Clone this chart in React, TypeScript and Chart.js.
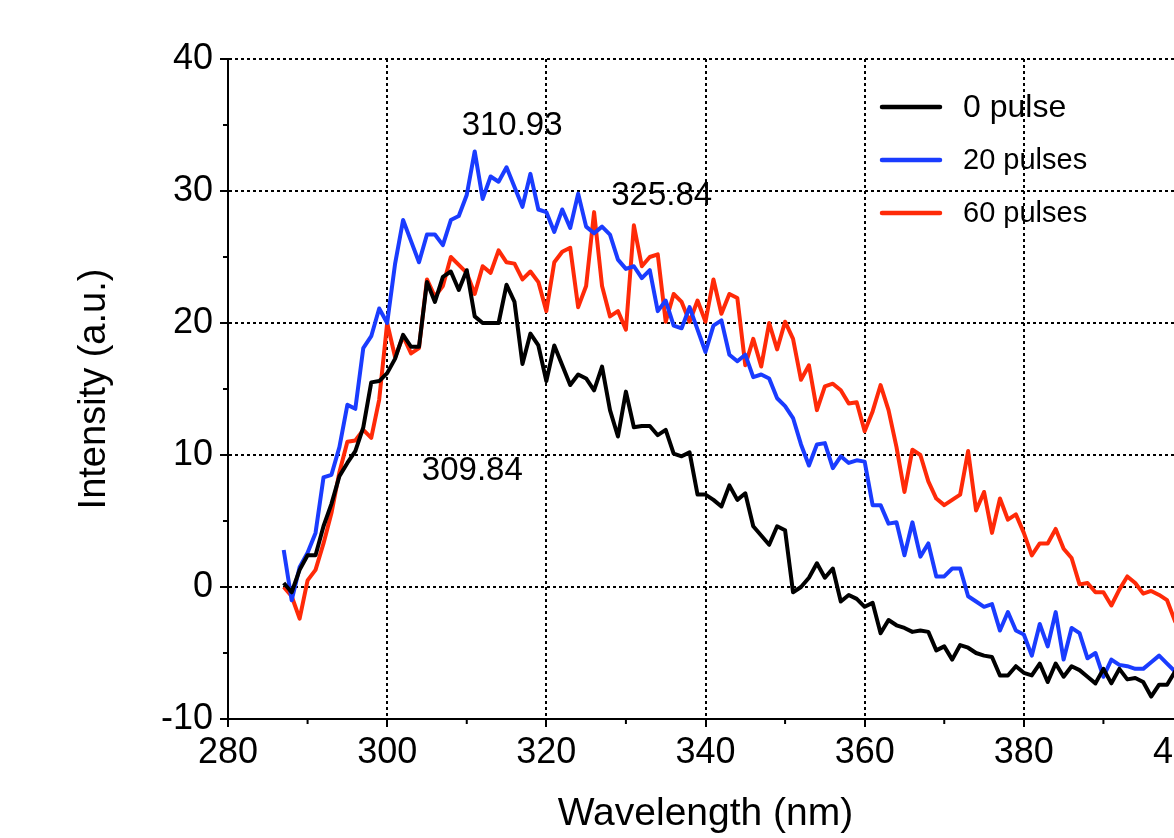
import React, { useEffect, useRef } from "react";
import { Chart, registerables } from "chart.js";

Chart.register(...registerables);

const wavelengths = [
  287, 288, 289, 290, 291, 292, 293, 294, 295, 296,
  297, 298, 299, 300, 301, 302, 303, 304, 305, 306,
  307, 308, 309, 310, 311, 312, 313, 314, 315, 316,
  317, 318, 319, 320, 321, 322, 323, 324, 325, 326,
  327, 328, 329, 330, 331, 332, 333, 334, 335, 336,
  337, 338, 339, 340, 341, 342, 343, 344, 345, 346,
  347, 348, 349, 350, 351, 352, 353, 354, 355, 356,
  357, 358, 359, 360, 361, 362, 363, 364, 365, 366,
  367, 368, 369, 370, 371, 372, 373, 374, 375, 376,
  377, 378, 379, 380, 381, 382, 383, 384, 385, 386,
  387, 388, 389, 390, 391, 392, 393, 394, 395, 396,
  397, 398, 399, 400,
];

const pulse0 = [
  0.3, -0.4, 1.3, 2.4, 2.4, 4.6, 6.3, 8.4, 9.4, 10.3,
  12.1, 15.5, 15.6, 16.2, 17.3, 19.1, 18.2, 18.2, 23.1, 21.6,
  23.5, 23.9, 22.5, 24.0, 20.5, 20.0, 20.0, 20.0, 22.9, 21.6,
  16.9, 19.2, 18.3, 15.6, 18.3, 16.8, 15.3, 16.1, 15.8, 14.9,
  16.7, 13.4, 11.4, 14.8, 12.1, 12.2, 12.2, 11.5, 11.9, 10.1,
  9.9, 10.2, 7.0, 7.0, 6.6, 6.1, 7.7, 6.6, 7.1, 4.6,
  3.9, 3.2, 4.6, 4.3, -0.4, 0.0, 0.7, 1.8, 0.7, 1.4,
  -1.1, -0.6, -0.9, -1.5, -1.2, -3.5, -2.5, -2.9, -3.1, -3.4,
  -3.3, -3.4, -4.8, -4.5, -5.5, -4.4, -4.6, -5.0, -5.2, -5.3,
  -6.7, -6.7, -6.0, -6.5, -6.7, -5.8, -7.2, -5.8, -6.8, -6.0,
  -6.3, -6.8, -7.3, -6.2, -7.3, -6.2, -7.0, -6.9, -7.2, -8.3,
  -7.4, -7.4, -6.4, -6.0,
];

const pulses20 = [
  2.8, -1.0, 1.5, 2.6, 4.1, 8.3, 8.5, 10.6, 13.8, 13.5,
  18.1, 19.0, 21.1, 20.0, 24.5, 27.8, 26.2, 24.6, 26.7, 26.7,
  25.9, 27.8, 28.1, 29.7, 33.0, 29.4, 31.1, 30.7, 31.8, 30.3,
  28.8, 31.3, 28.6, 28.4, 26.9, 28.6, 27.2, 29.8, 27.3, 26.8,
  27.3, 26.7, 24.8, 24.1, 24.3, 23.4, 24.0, 20.9, 21.7, 19.8,
  19.6, 21.2, 19.5, 17.8, 19.8, 20.2, 17.6, 17.1, 17.6, 15.9,
  16.1, 15.8, 14.3, 13.7, 12.8, 10.8, 9.2, 10.8, 10.9, 9.0,
  9.9, 9.4, 9.6, 9.5, 6.2, 6.2, 4.8, 4.9, 2.4, 4.9,
  2.3, 3.3, 0.8, 0.8, 1.4, 1.4, -0.7, -1.1, -1.5, -1.3,
  -3.3, -1.9, -3.3, -3.6, -5.2, -2.8, -4.5, -1.9, -5.5, -3.1,
  -3.5, -5.4, -5.0, -6.8, -5.5, -5.9, -6.0, -6.2, -6.2, -5.7,
  -5.2, -5.8, -6.4, -6.8,
];

const pulses60 = [
  0.0, -0.7, -2.4, 0.5, 1.3, 3.3, 5.6, 8.7, 11.0, 11.1,
  11.9, 11.3, 14.2, 20.0, 17.4, 19.0, 17.7, 18.1, 23.3, 22.0,
  22.8, 25.0, 24.4, 23.8, 22.2, 24.3, 23.8, 25.5, 24.6, 24.5,
  23.3, 23.9, 23.1, 20.9, 24.6, 25.4, 25.7, 21.2, 22.8, 28.4,
  22.8, 20.5, 20.9, 19.5, 27.4, 24.3, 25.0, 25.2, 20.1, 22.2,
  21.6, 20.1, 21.7, 20.1, 23.3, 20.7, 22.2, 21.9, 16.8, 18.8,
  16.7, 20.0, 18.0, 20.1, 18.8, 15.7, 16.8, 13.4, 15.2, 15.4,
  14.9, 13.9, 14.0, 11.8, 13.3, 15.3, 13.4, 10.6, 7.2, 10.4,
  10.0, 8.0, 6.7, 6.2, 6.6, 7.0, 10.3, 5.8, 7.2, 4.1,
  6.7, 5.1, 5.5, 4.1, 2.4, 3.3, 3.3, 4.4, 2.9, 2.2,
  0.2, 0.3, -0.4, -0.4, -1.4, -0.2, 0.8, 0.3, -0.5, -0.3,
  -0.6, -1.0, -2.6, -3.5,
];

const seriesLabels = ["0 pulse", "20 pulses", "60 pulses"];
const seriesColors = ["#000000", "#1a3cff", "#ff2a08"];

const minorXTicks = [290, 310, 330, 350, 370, 390];
const minorYTicks = [35, 25, 15, 5, -5];

const peakLabels = ["310.93", "325.84", "309.84"];
const peakLabelX = [315.7, 334.5, 310.7];
const peakLabelY = [34.9, 29.6, 8.8];

const FONT = '"Liberation Sans", Arial, Helvetica, sans-serif';

const extrasPlugin = {
  id: "extras",
  afterDatasetsDraw(chart: any) {
    const { ctx, chartArea } = chart;
    const xs = chart.scales.x;
    const ys = chart.scales.y;
    ctx.save();
    // minor ticks
    ctx.strokeStyle = "#000";
    ctx.lineWidth = 2;
    ctx.beginPath();
    minorXTicks.forEach((v) => {
      const px = xs.getPixelForValue(v);
      ctx.moveTo(px, chartArea.bottom);
      ctx.lineTo(px, chartArea.bottom + 5);
    });
    minorYTicks.forEach((v) => {
      const py = ys.getPixelForValue(v);
      ctx.moveTo(chartArea.left, py);
      ctx.lineTo(chartArea.left - 5, py);
    });
    ctx.stroke();

    // peak annotations
    ctx.fillStyle = "#000";
    ctx.font = `33px ${FONT}`;
    ctx.textAlign = "center";
    ctx.textBaseline = "middle";
    peakLabels.forEach((t, i) => {
      ctx.fillText(t, xs.getPixelForValue(peakLabelX[i]), ys.getPixelForValue(peakLabelY[i]));
    });

    // legend
    const lineX1 = 882;
    const lineX2 = 940;
    const textX = 963;
    const rowY = [107, 160, 213];
    const sizes = [32, 29, 29];
    ctx.lineCap = "round";
    ctx.textAlign = "left";
    chart.data.datasets.forEach((ds: any, i: number) => {
      ctx.strokeStyle = ds.borderColor;
      ctx.lineWidth = 4.5;
      ctx.beginPath();
      ctx.moveTo(lineX1, rowY[i]);
      ctx.lineTo(lineX2, rowY[i]);
      ctx.stroke();
      ctx.fillStyle = "#000";
      ctx.font = `${sizes[i]}px ${FONT}`;
      ctx.fillText(ds.label, textX, rowY[i] + 1);
    });
    ctx.restore();
  },
};

export default function App() {
  const ref = useRef<HTMLCanvasElement | null>(null);

  useEffect(() => {
    if (!ref.current) return;
    const series = [pulse0, pulses20, pulses60];
    const chart = new Chart(ref.current, {
      type: "line",
      data: {
        datasets: series.map((vals, si) => ({
          label: seriesLabels[si],
          data: wavelengths.map((w, i) => ({ x: w, y: vals[i] })),
          borderColor: seriesColors[si],
          backgroundColor: seriesColors[si],
          borderWidth: 4,
          pointRadius: 0,
          tension: 0,
          borderJoinStyle: "round" as const,
          fill: false,
        })),
      },
      options: {
        animation: false,
        responsive: false,
        layout: { padding: { left: 0, top: 59, right: 60, bottom: 0 } },
        plugins: {
          legend: { display: false },
          tooltip: { enabled: false },
        },
        scales: {
          x: {
            type: "linear",
            min: 280,
            max: 400,
            ticks: {
              stepSize: 20,
              autoSkip: false,
              maxRotation: 0,
              color: "#000",
              padding: 4,
              font: { family: FONT, size: 36 },
            },
            grid: {
              color: "#000",
              lineWidth: 2,
              tickLength: 8,
              tickColor: "#000",
              tickWidth: 2,
              tickBorderDash: [],
            },
            border: { display: true, color: "#000", width: 2, dash: [3, 3] },
            title: {
              display: true,
              text: "Wavelength (nm)",
              color: "#000",
              font: { family: FONT, size: 39, lineHeight: 1.2 },
              padding: { top: 0, bottom: 0 },
            },
            afterFit: (s: any) => {
              s.height = 119;
            },
          },
          y: {
            type: "linear",
            min: -10,
            max: 40,
            ticks: {
              stepSize: 10,
              color: "#000",
              padding: 7,
              font: { family: FONT, size: 36 },
            },
            grid: {
              color: "#000",
              lineWidth: 2,
              tickLength: 8,
              tickColor: "#000",
              tickWidth: 2,
              tickBorderDash: [],
            },
            border: { display: true, color: "#000", width: 2, dash: [3, 3] },
            title: {
              display: true,
              text: "Intensity (a.u.)",
              color: "#000",
              font: { family: FONT, size: 38, lineHeight: 1.2 },
              padding: { top: 72, bottom: 0 },
            },
            afterFit: (s: any) => {
              s.width = 228;
            },
          },
        },
      },
      plugins: [extrasPlugin],
    } as any);
    return () => chart.destroy();
  }, []);

  return (
    <div
      style={{
        position: "fixed",
        left: 0,
        top: 0,
        width: 1174,
        height: 838,
        overflow: "hidden",
        background: "#fff",
      }}
    >
      <canvas ref={ref} width={1243} height={838} style={{ display: "block" }} />
    </div>
  );
}
